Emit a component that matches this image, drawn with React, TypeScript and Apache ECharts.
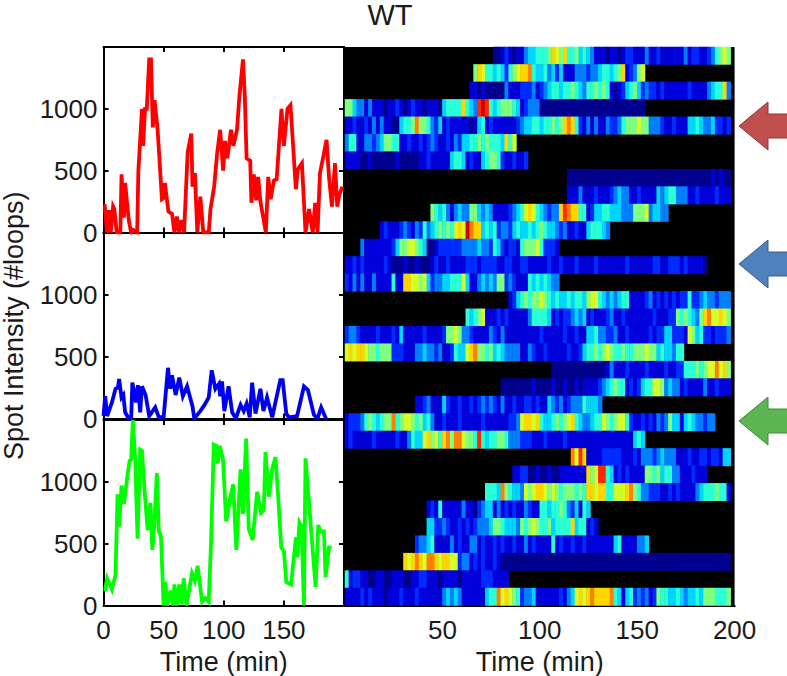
import React, { useEffect, useRef } from "react";
import * as echarts from "echarts";

const FONT = "Liberation Sans";
const TEXT = "#1a1a1a";

const redTrace = [[0,215],[1,215],[3,0],[4.5,180],[6,0],[8,210],[9,190],[11,0],[14,0],[15,470],[17,120],[18,400],[21,100],[23,0],[25,20],[28,0],[29,500],[32,1000],[33,700],[34.5,1000],[36,1000],[38,1400],[39.5,1400],[41,850],[42.5,1070],[45,830],[48.6,270],[50,280],[51,400],[54,170],[57,150],[59,0],[61,130],[63,0],[65,100],[67,0],[70,650],[73,800],[74,370],[76,480],[78,0],[80.5,290],[83,0],[87.5,0],[89,190],[92,370],[94.5,640],[97,830],[99.5,500],[101,740],[103,600],[106,830],[108,700],[111,830],[113,1100],[116,1400],[117.5,1100],[119,600],[122,580],[123,240],[125,470],[127,260],[128.6,450],[130.5,250],[135,0],[137,450],[139,270],[141.7,420],[144,430],[148,1000],[150,700],[153,1000],[155.5,1030],[160,350],[161.6,510],[165,560],[168,0],[171,190],[174,0],[176,240],[178,0],[180,480],[182.5,600],[185.5,750],[187.5,450],[190,210],[192.5,560],[194.4,210],[196,300],[198.6,370]];
const blueTrace = [[0,20],[1.4,180],[3,20],[7,130],[10,240],[12,250],[13,320],[15,170],[16.5,190],[18,50],[21,0],[23,0],[24,290],[27,130],[28.6,270],[30.5,50],[32,260],[35,190],[38,20],[43,90],[46,10],[50,10],[53.6,410],[55.5,240],[57,350],[60,190],[63,330],[66,180],[69.5,260],[74,100],[75.5,0],[80.5,60],[84,110],[87.5,170],[90,390],[93,240],[96,280],[97,180],[98.6,300],[100.5,60],[104,260],[107,50],[110,0],[114,110],[116.6,60],[119,120],[121.6,10],[123.6,290],[126.4,40],[130.5,240],[133,60],[136,170],[140.3,10],[147,310],[149,310],[152,40],[154,10],[161,20],[166.7,260],[170,230],[175,30],[178,0],[181,90],[185,0]];
const greenTrace = [[0,130],[1.4,130],[3,220],[7,130],[10,250],[11.7,900],[13,640],[15,970],[17,820],[19.5,1020],[21.7,1170],[23,1180],[24.4,1500],[26.4,1180],[28.3,540],[30.5,1260],[32,1250],[34,950],[36.7,610],[39,830],[40.6,450],[42,620],[44.4,1070],[46,600],[47.8,560],[50,0],[51.4,190],[53,0],[55.6,120],[57.8,0],[59,170],[61,0],[63,170],[65,10],[66.7,220],[69,0],[71,110],[73.6,260],[76,200],[78.3,320],[82,30],[84.7,60],[87.5,30],[89.4,500],[91.7,1300],[94,1290],[95,1150],[96.7,1290],[99.4,1180],[102,680],[105,850],[107.8,980],[110.5,450],[114,1100],[116,740],[118.6,1350],[120.8,620],[124,530],[127.8,920],[131,750],[133.3,770],[134.7,1240],[137.5,880],[140.3,1100],[143,1200],[145,920],[147.8,470],[150,440],[152,190],[156,170],[160,550],[161,390],[163,670],[164.7,640],[166.7,0],[168,1190],[171,820],[176.4,150],[178.6,650],[180.6,600],[183.3,600],[184.7,230],[187.5,470],[189.7,470]];

const heatStarts = [38,33,32,0,0,0,0,57,57,22,9,4,0,0,42,31,0,0,53,40,18,0,0,58,43,36,21,21,18,15,0,0];

const heatRow01 = [0,0,1,2,1,0,1,1,3,4,4,5,5,5,6,8,7,6,8,5,5,6,4,5,4,3,1,1,1,0,1,1,0,1,2,2,1,1,1,3,1,1,2,1,1,1,1,1,1,3,1,2,2,1,1,2,3,5,6,7,6];
const heatRow02 = [6,8,7,5,5,4,5,4,2,5,6,7,8,8,9,5,4,4,5,3,4,2,4,1,1,1,3,3,3,2,3,3,4,5,5,4,5,6,8,1,2,3,6,7];
const heatRow03 = [1,1,0,1,0,0,0,0,0,3,1,1,1,2,2,2,3,1,2,3,4,5,5,4,5,5,6,5,4,3,5,5,6,5,6,5,1,0,1,2,4,5,6,4,2,3,2,2,1,2,1,1,1,1,1,1,2,1,1,1,1,3,4,5,5,8,3];
const heatRow04 = [6,6,4,3,3,1,3,1,1,1,0,1,1,2,1,0,1,2,1,1,0,1,1,1,0,4,5,5,5,5,8,5,4,3,10,11,10,5,4,5,6,6,6,5,4,1,2,3,3,3,0,0,0,0,0,0,0,0,0,0,0,0,0,0,0,0,0,0,0,0,0,0,0,0,0,0,0];
const heatRow05 = [1,1,2,1,1,2,1,3,1,3,1,1,0,0,4,5,5,6,9,6,6,5,3,2,4,1,2,1,1,1,1,1,0,1,4,5,1,2,1,1,1,1,1,1,2,3,4,4,5,5,4,5,5,6,5,6,8,9,8,5,2,1,3,1,3,1,1,3,2,2,3,5,6,6,6,7,6,6,3,3,3,2,1,1,2,1,1,1,4,4,5,4,3,3,4,2,2,1,2];
const heatRow06 = [3,5,5,1,1,3,3,2,3,4,6,6,5,5,1,1,2,1,1,2,1,2,3,2,1,1,2,1,3,2,4,4,5,5,6,5,6,5,5,5,4,8,5,7];
const heatRow07 = [1,1,1,1,0,0,1,0,0,0,0,0,0,1,0,0,0,0,0,1,1,2,1,1,1,1,1,4,5,5,4,1,2,1,1,4,5,6,6,5,2,1,1,2,1,1,2];
const heatRow08 = [0,0,0,0,0,0,0,0,0,0,0,0,0,0,0,0,0,0,0,0,0,0,0,0,0,0,0,0,0,0,0,0,0,0,0,0,0,1,0,1,0,0];
const heatRow09 = [1,1,1,3,1,1,1,2,1,1,1,2,3,4,3,3,1,1,2,1,1,1,1,4,3,4,5,5,3,3,3,1,1,2,1,1,1,1,2,1,1,1];
const heatRow10 = [6,5,4,5,3,1,3,4,3,3,6,6,4,3,4,3,1,1,1,1,2,3,4,5,7,8,7,5,4,3,2,3,3,8,10,9,8,8,5,5,1,2,4,4,5,5,4,4,4,3,3,3,6,6,6,7,3,4,4,3,3];
const heatRow11 = [1,2,1,1,1,2,3,2,1,3,2,5,3,4,5,6,5,6,5,7,8,7,11,9,8,8,4,5,4,5,2,3,3,2,4,5,4,4,5,4,5,6,5,4,4,3,2,3,1,1,2,1,1,4,5,5,5,4,3];
const heatRow12 = [3,1,1,1,1,1,1,1,2,4,6,6,7,7,6,5,4,0,0,1,2,2,2,2,2,2,3,3,3,3,4,3,3,2,5,4,2,1,2,2,1,5,6,6,6,7,5,2,2,2,1];
const heatRow13 = [1,1,2,1,2,1,1,1,1,1,2,1,0,0,0,1,0,0,1,0,0,0,1,2,1,1,2,1,1,1,1,2,2,2,1,2,2,2,2,1,1,2,2,1,1,2,2,1,1,1,1,1,2,1,1,2,1,1,1,2,1,1,1,1,2,1,1,1,1,1,1,1,2,1,1,1,1,1,1,2,2,1,1,2,2,2,1,2,1,1,1,1,0];
const heatRow14 = [2,1,3,1,3,1,1,3,1,1,1,1,5,1,1,8,8,7,7,6,7,4,2,3,3,4,4,5,5,5,7,4,1,1,3,4,3,4,3,6,6,2,3,2,1,1,1,5,4,5,4,5,4,3,3];
const heatRow15 = [1,2,4,5,6,5,6,6,7,6,5,4,5,4,4,5,4,5,5,4,6,7,7,5,4,3,4,3,4,5,5,1,1,1,1,2,3,1,2,1,2,1,2,1,2,2,5,2,2,3,4,3,3,2,3,3,3];
const heatRow16 = [5,4,5,6,7,1,1,1,2,1,2,1,1,1,1,1,3,5,5,5,5,4,1,2,1,2,2,3,4,3,4,1,2,1,1,1,2,3,1,1,2,1,1,1,1,1,1,1,2,1,1,1,2,2,6,5,6,5,4,3,6,8,9,7,7,8,7,6];
const heatRow17 = [2,3,3,2,1,1,1,1,2,1,1,1,2,1,4,1,1,1,1,1,2,1,1,1,1,2,6,6,7,6,3,3,2,1,1,1,1,3,2,1,3,1,1,1,1,1,1,1,1,1,2,1,1,1,1,1,2,1,1,2,1,1,4,4,5,3,3,2,2,3,1,1,2,1,1,1,1,1,2,1,2,2,4,4,2,2,2,1,7,6,4,5,2,2,1,2,2,2,3];
const heatRow18 = [7,8,7,8,8,7,6,6,5,6,6,6,2,2,2,1,1,1,3,3,4,3,3,2,3,1,1,2,5,4,4,7,8,9,6,6,5,6,4,5,4,3,3,3,3,1,1,3,2,1,1,2,1,1,1,1,1,2,1,1,2,4,5,5,6,5,6,7,6,5,5,6,5,5,6,6,6,7,6,6,4,5,4,4,3,5,5];
const heatRow19 = [0,0,0,0,0,0,0,0,0,0,0,0,0,0,1,3,1,1,1,2,1,1,1,1,2,1,1,1,1,2,1,1,2,2,5,5,5,6,5,6,7,7,9,7,8,6];
const heatRow20 = [0,0,0,0,0,0,0,0,1,0,0,0,0,1,0,0,1,0,0,1,0,1,1,1,1,2,3,4,5,6,5,5,1,2,1,2,4,5,5,7,7,6,3,4,3,3,1,2,1,1,1,1,3,1,1,2,1,1,1];
const heatRow21 = [1,1,2,3,1,1,1,4,2,1,1,2,1,1,2,1,2,3,2,3,2,1,3,1,1,2,1,1,2,2,1,2,1,1,4,3,2,3,1,2,3,3,3,5,4,4,4,3];
const heatRow22 = [1,2,2,2,3,5,6,5,4,5,6,6,9,5,6,7,7,6,5,6,4,5,3,1,1,2,1,1,1,2,1,1,1,1,1,2,1,1,1,1,1,1,2,2,3,7,8,8,7,8,5,4,4,5,6,5,6,7,8,5,4,3,3,4,5,5,7,6,5,6,7,7,5,2,1,1,2,1,2,1,3,2,3,6,4,4,1,4,5,4,3,3,2,3,3];
const heatRow23 = [1,2,1,1,1,1,1,2,1,1,1,1,1,2,1,1,3,5,4,4,7,8,6,7,5,8,9,6,9,9,7,6,6,5,10,5,4,5,5,6,6,5,3,3,3,2,2,2,1,1,1,2,1,1,1,1,2,1,1,1,1,1,1,1,1,1,1,1,1,1,1,1,1,1,4,5,4];
const heatRow24 = [9,7,10,8,1,1,1,1,2,2,2,2,2,1,1,1,2,1,3,3,3,2,3,4,3,3,3,1,1,1,2,1,1,2,2,1,2,2,1,4,4];
const heatRow25 = [1,1,2,2,0,0,1,0,0,1,0,0,1,1,1,1,1,1,1,8,6,7,10,10,5,4,1,2,1,2,1,1,1,1,6,6,5,6,4,5,5,3,3,1,1,1,2,1,1,1];
const heatRow26 = [5,5,5,4,9,6,5,4,4,3,7,6,7,8,8,7,6,7,6,5,6,6,6,5,6,5,8,8,7,8,8,5,5,7,7,7,8,9,6,5,3,3,2,2,2,1,1,2,1,2,1,1,1,1,3,4,5,5,5,6,5,5,1];
const heatRow27 = [1,2,1,5,1,1,1,1,1,3,1,1,0,2,3,4,4,1,3,1,2,1,2,1,1,3,2,1,1,5,5,4,5,5,6,5,3,2,4,1,5,4];
const heatRow28 = [4,4,2,2,3,2,1,1,2,1,2,1,2,3,3,3,4,6,6,5,4,4,4,3,6,5,6,7,6,5,5,6,4,5,5,5,5,8,4,5,5,1,2,1];
const heatRow29 = [2,3,3,4,5,1,1,1,1,3,1,2,1,1,3,3,1,2,1,1,2,1,2,1,1,2,1,1,3,1,2,1,1,1,1,5,1,2,1,1,2,1,1,2,1,1,1,1,1,1,1,4,5,1,1,1,1,3,3,4];
const heatRow30 = [8,7,8,9,8,7,9,9,8,7,8,8,7,7,2,3,3,1,2,1,2,1,1,2,1,0,0,0,0,0,0,0,0,0,0,0,0,0,0,0,0,0,0,0,0,0,0,0,0,0,0,0,0,0,0,0,0,0,0,0,0,0,0,0,0,0,0,0,0,0,0,0,0,0,0,0,0,0,0,0,0,0,0,0];
const heatRow31 = [5,1,2,2,1,1,0,0,1,1,0,0,1,1,1,0,0,1,1,2,2,1,1,1,0,1,1,1,1,0,1,1,1,1,1,2,2,2,1,1,1,1];
const heatRow32 = [1,1,1,1,2,1,2,1,1,1,0,1,1,1,2,1,1,1,2,1,1,1,1,1,1,3,4,3,4,3,1,1,1,1,1,1,4,5,5,9,7,8,7,6,5,2,3,3,4,1,1,1,1,1,1,2,1,3,4,7,8,7,8,9,8,8,8,8,9,5,4,1,4,5,2,3,2,3,1,2,6,5,5,4,4,5,4,3,4,4,5,4,6,6,6,5,5,5,6];

const heatRows = [heatRow01,heatRow02,heatRow03,heatRow04,heatRow05,heatRow06,heatRow07,heatRow08,heatRow09,heatRow10,heatRow11,heatRow12,heatRow13,heatRow14,heatRow15,heatRow16,heatRow17,heatRow18,heatRow19,heatRow20,heatRow21,heatRow22,heatRow23,heatRow24,heatRow25,heatRow26,heatRow27,heatRow28,heatRow29,heatRow30,heatRow31,heatRow32];
const heatColumns = Array.from({ length: 100 }, (_, i) => String(i * 2));
const heatRowNames = heatRows.map((_, i) => String(i + 1));

const lineTraces = [
  { name: "red spot", data: redTrace, color: "#ff0000" },
  { name: "blue spot", data: blueTrace, color: "#0000f0" },
  { name: "green spot", data: greenTrace, color: "#00ff00" },
];
const jet = ["#00008f","#0000ff","#0080ff","#00ffff","#80ff80","#ffff00","#ff8000","#ff0000","#800000"];

const panelTops = [47, 233, 420];
const panelHeight = 185.5;
const axisLineStyle = { color: "#000", width: 2 };

const arrow = (id: string, cy: number, fill: string, stroke: string) => ({
  type: "polygon",
  id,
  shape: { points: [[739,cy],[768,cy-24],[768,cy-12],[790,cy-12],[790,cy+12],[768,cy+12],[768,cy+24]] },
  style: { fill, stroke, lineWidth: 1 },
  z: 20,
});

export default function App() {
  const ref = useRef<HTMLDivElement>(null);
  useEffect(() => {
    document.body.style.margin = "0";
    const chart = echarts.init(ref.current!, undefined, { renderer: "svg" });
    const grid: any[] = panelTops.map((top) => ({ left: 103.5, width: 240.5, top, height: panelHeight, show: true, backgroundColor: "#fff", borderWidth: 0, outerBoundsMode: "none" }));
    grid.push({ left: 345, width: 389.6, top: 47, height: 558.5, show: true, backgroundColor: "#000", borderWidth: 0, outerBoundsMode: "none" });

    const xAxis: any[] = [];
    const yAxis: any[] = [];
    panelTops.forEach((_, i) => {
      xAxis.push({
        type: "value", gridIndex: i, min: 0, max: 200, interval: 50, position: "bottom",
        splitLine: { show: false },
        axisLine: { show: true, onZero: false, lineStyle: axisLineStyle },
        axisTick: { show: true, inside: true, length: 5, lineStyle: { color: "#000", width: 2 } },
        axisLabel: {
          show: i === 2, fontFamily: FONT, fontSize: 26, color: TEXT, margin: 11,
          formatter: (v: number) => (v === 200 ? "" : String(v)),
        },
        ...(i === 2 ? { name: "Time (min)", nameLocation: "middle", nameGap: 43, nameTextStyle: { fontFamily: FONT, fontSize: 27, color: TEXT } } : {}),
      });
    });
    panelTops.forEach((_, i) => {
      xAxis.push({
        type: "value", gridIndex: i, min: 0, max: 200, interval: 50, position: "top",
        splitLine: { show: false },
        axisLine: { show: true, onZero: false, lineStyle: axisLineStyle },
        axisTick: { show: true, inside: true, length: 5, lineStyle: { color: "#000", width: 2 } },
        axisLabel: { show: false },
      });
    });
    xAxis.push({
      type: "value", gridIndex: 3, min: 0, max: 200, interval: 50, position: "bottom",
      splitLine: { show: false },
      axisLine: { show: true, onZero: false, lineStyle: axisLineStyle },
      axisTick: { show: false },
      axisLabel: {
        fontFamily: FONT, fontSize: 26, color: TEXT, margin: 11,
        formatter: (v: number) => (v === 0 ? "" : String(v)),
      },
      name: "Time (min)", nameLocation: "middle", nameGap: 43,
      nameTextStyle: { fontFamily: FONT, fontSize: 27, color: TEXT },
    });
    xAxis.push({ type: "category", gridIndex: 3, data: heatColumns, show: false, position: "top" });

    panelTops.forEach((_, i) => {
      yAxis.push({
        type: "value", gridIndex: i, min: 0, max: 1500, interval: 500, position: "left",
        splitLine: { show: false },
        axisLine: { show: true, onZero: false, lineStyle: axisLineStyle },
        axisTick: { show: true, inside: true, length: 5, lineStyle: { color: "#000", width: 2 } },
        axisLabel: {
          fontFamily: FONT, fontSize: 26, color: TEXT, margin: 6,
          formatter: (v: number) => (v === 1500 ? "" : String(v)),
        },
        ...(i === 1 ? { name: "Spot Intensity (#loops)", nameLocation: "middle", nameRotate: 90, nameGap: 76, nameTextStyle: { fontFamily: FONT, fontSize: 27, color: TEXT } } : {}),
      });
    });
    panelTops.forEach((_, i) => {
      yAxis.push({
        type: "value", gridIndex: i, min: 0, max: 1500, interval: 500, position: "right",
        splitLine: { show: false },
        axisLine: { show: true, onZero: false, lineStyle: axisLineStyle },
        axisTick: { show: true, inside: true, length: 5, lineStyle: { color: "#000", width: 2 } },
        axisLabel: { show: false },
      });
    });
    yAxis.push({ type: "category", gridIndex: 3, data: heatRowNames, inverse: true, show: false });

    const heatData: (number | string)[][] = [];
    heatRows.forEach((row, r) => {
      row.forEach((level, c) => {
        heatData.push([heatColumns[heatStarts[r] + c], heatRowNames[r], level]);
      });
    });

    const series: any[] = lineTraces.map((t, i) => ({
      type: "line", name: t.name, xAxisIndex: i, yAxisIndex: i, data: t.data,
      showSymbol: false, symbol: "none", smooth: false, clip: true, z: 1,
      lineStyle: { color: t.color, width: 3.8, join: "miter" },
    }));
    series.push({
      type: "heatmap", xAxisIndex: 7, yAxisIndex: 6, data: heatData,
      progressive: 0, silent: true, emphasis: { disabled: true },
    });

    chart.setOption({
      animation: false,
      backgroundColor: "#fff",
      title: {
        text: "WT", left: 385, top: -5, textAlign: "center",
        textStyle: { fontFamily: FONT, fontSize: 29, fontWeight: "normal", color: TEXT },
      },
      tooltip: { show: false },
      grid, xAxis, yAxis, series,
      visualMap: {
        show: false, type: "continuous", seriesIndex: 3, dimension: 2, min: 0, max: 12,
        inRange: { color: jet },
      },
      graphic: [
        arrow("arrow-red", 126, "#c0504d", "#8c3836"),
        arrow("arrow-blue", 264, "#4f81bd", "#385d8a"),
        arrow("arrow-green", 421, "#5cb551", "#3f8a38"),
      ],
    });
    return () => chart.dispose();
  }, []);
  return <div ref={ref} style={{ width: 787, height: 676 }} />;
}
